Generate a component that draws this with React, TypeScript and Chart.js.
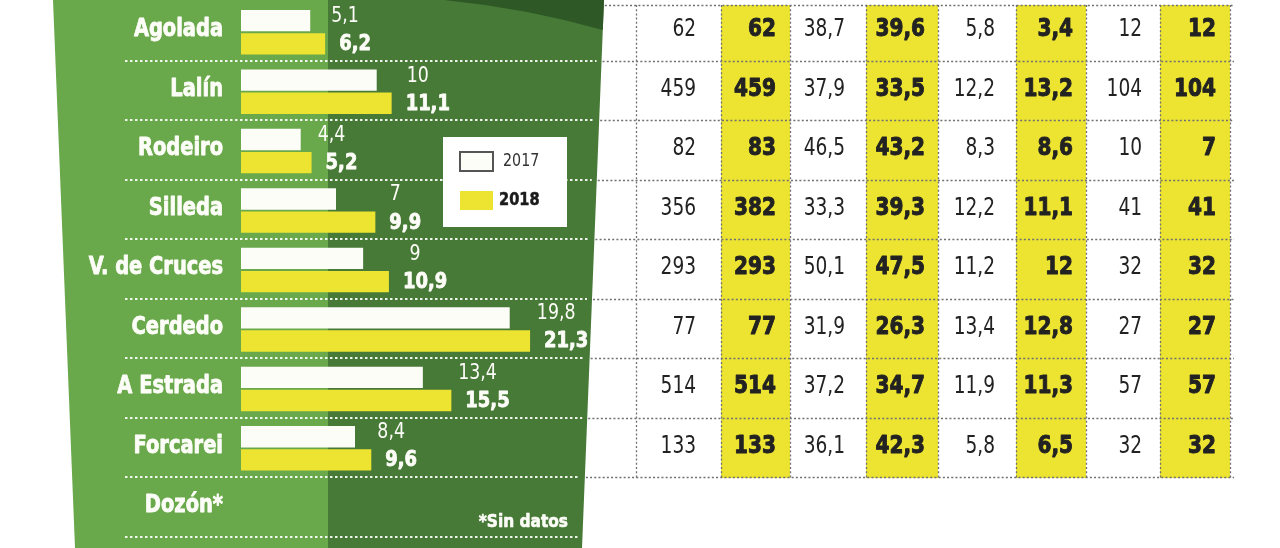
import React, { useEffect, useRef } from 'react';
import { Chart, registerables } from 'chart.js';

Chart.register(...registerables);

// ---------- data ----------
const categories = ['Agolada', 'Lalín', 'Rodeiro', 'Silleda', 'V. de Cruces', 'Cerdedo', 'A Estrada', 'Forcarei', 'Dozón*'];
const seriesLabels = ['2017', '2018'];
const values2017 = [5.1, 10, 4.4, 7, 9, 19.8, 13.4, 8.4, null];
const values2018 = [6.2, 11.1, 5.2, 9.9, 10.9, 21.3, 15.5, 9.6, null];

// table columns (pairs 2017 / 2018)
const colA2017 = [62, 459, 82, 356, 293, 77, 514, 133];
const colA2018 = [62, 459, 83, 382, 293, 77, 514, 133];
const colB2017 = [38.7, 37.9, 46.5, 33.3, 50.1, 31.9, 37.2, 36.1];
const colB2018 = [39.6, 33.5, 43.2, 39.3, 47.5, 26.3, 34.7, 42.3];
const colC2017 = [5.8, 12.2, 8.3, 12.2, 11.2, 13.4, 11.9, 5.8];
const colC2018 = [3.4, 13.2, 8.6, 11.1, 12, 12.8, 11.3, 6.5];
const colD2017 = [12, 104, 10, 41, 32, 27, 57, 32];
const colD2018 = [12, 104, 7, 41, 32, 27, 57, 32];
const noDataNote = '*Sin datos';

// ---------- styles / layout ----------
const LIGHT = '#69a84b';
const DARK = '#477937';
const DARKEST = '#2e5826';
const YELLOW = '#ece431';
const WHITE = '#fdfdf8';
const INK = '#222222';
const FONT = "'DejaVu Sans Condensed', 'DejaVu Sans', sans-serif";

const COL_EDGES = [636, 721, 790, 866, 938, 1016, 1086, 1160, 1230];
const TEXT_RIGHT = [696, 776, 845, 925, 995, 1073, 1142, 1216];
const TABLE_TOP = 5;

const leftEdge = (y: number) => 53 + (22 * y) / 548;
const rightEdge = (y: number) => 604 - (22 * y) / 548;
const fmt = (v: number) => String(v).replace('.', ',');

function drawText(
  ctx: CanvasRenderingContext2D,
  s: string,
  x: number,
  y: number,
  font: string,
  color: string,
  align: CanvasTextAlign,
  sx = 1,
  heavy = 0
) {
  ctx.save();
  ctx.font = font;
  try {
    (ctx as any).fontStretch = 'condensed';
  } catch (e) {}
  ctx.fillStyle = color;
  ctx.textAlign = align;
  ctx.textBaseline = 'middle';
  ctx.translate(x, y);
  ctx.scale(sx, 1);
  if (heavy > 0) {
    ctx.strokeStyle = color;
    ctx.lineWidth = heavy;
    ctx.lineJoin = 'round';
    ctx.strokeText(s, 0, 0);
  }
  ctx.fillText(s, 0, 0);
  ctx.restore();
}

export default function App() {
  const ref = useRef<HTMLCanvasElement>(null);

  useEffect(() => {
    document.body.style.margin = '0';
    const canvas = ref.current;
    if (!canvas) return;

    const panelPlugin = {
      id: 'panel',
      beforeDraw(chart: any) {
        const ctx: CanvasRenderingContext2D = chart.ctx;
        const y = chart.scales.y;
        const n = categories.length;
        const band = (y.bottom - y.top) / n;
        const H = chart.height;
        const split = 328;

        ctx.save();
        ctx.fillStyle = '#ffffff';
        ctx.fillRect(0, 0, chart.width, H);

        // light green part
        ctx.beginPath();
        ctx.moveTo(leftEdge(0), 0);
        ctx.lineTo(split, 0);
        ctx.lineTo(split, H);
        ctx.lineTo(leftEdge(H), H);
        ctx.closePath();
        ctx.fillStyle = LIGHT;
        ctx.fill();

        // dark green part
        ctx.beginPath();
        ctx.moveTo(split, 0);
        ctx.lineTo(rightEdge(0), 0);
        ctx.lineTo(rightEdge(H), H);
        ctx.lineTo(split, H);
        ctx.closePath();
        ctx.fillStyle = DARK;
        ctx.fill();

        // darkest top corner
        ctx.beginPath();
        ctx.moveTo(444, 0);
        ctx.quadraticCurveTo(525, 8, rightEdge(30), 30);
        ctx.lineTo(rightEdge(0), 0);
        ctx.closePath();
        ctx.fillStyle = DARKEST;
        ctx.fill();

        // white dotted separators in the panel
        ctx.strokeStyle = 'rgba(255,255,255,0.9)';
        ctx.lineWidth = 2;
        ctx.setLineDash([2.5, 2.5]);
        for (let k = 1; k <= n; k++) {
          const yy = Math.round(y.top + k * band) - 1;
          ctx.beginPath();
          ctx.moveTo(125, yy);
          ctx.lineTo(rightEdge(yy) - 5, yy);
          ctx.stroke();
        }

        // ---- table ----
        const rows = colA2017.length;
        const tableBottom = y.top + rows * band;
        ctx.setLineDash([]);
        ctx.fillStyle = YELLOW;
        for (let j = 1; j < 8; j += 2) {
          ctx.fillRect(COL_EDGES[j], TABLE_TOP, COL_EDGES[j + 1] - COL_EDGES[j], tableBottom - TABLE_TOP);
        }
        ctx.strokeStyle = '#707070';
        ctx.lineWidth = 1.3;
        ctx.setLineDash([2, 2.2]);
        for (let k = 0; k <= rows; k++) {
          const yy = k === 0 ? TABLE_TOP : Math.round(y.top + k * band) - 1;
          ctx.beginPath();
          ctx.moveTo(rightEdge(yy) + 1, yy + 0.5);
          ctx.lineTo(1234, yy + 0.5);
          ctx.stroke();
        }
        for (const x of COL_EDGES) {
          ctx.beginPath();
          ctx.moveTo(x + 0.5, TABLE_TOP);
          ctx.lineTo(x + 0.5, tableBottom);
          ctx.stroke();
        }
        ctx.restore();

        const cols = [colA2017, colA2018, colB2017, colB2018, colC2017, colC2018, colD2017, colD2018];
        for (let i = 0; i < rows; i++) {
          const cy = y.getPixelForValue(i) - 2;
          cols.forEach((col, j) => {
            const bold = j % 2 === 1;
            drawText(
              ctx,
              fmt(col[i]),
              TEXT_RIGHT[j],
              cy,
              bold ? `bold 24px ${FONT}` : `24px ${FONT}`,
              INK,
              'right',
              bold ? 0.93 : 0.86,
              bold ? 0.9 : 0
            );
          });
        }
      },
      afterDatasetsDraw(chart: any) {
        const ctx: CanvasRenderingContext2D = chart.ctx;
        const y = chart.scales.y;
        const m17 = chart.getDatasetMeta(0).data;
        const m18 = chart.getDatasetMeta(1).data;

        // category labels
        categories.forEach((c, i) => {
          drawText(ctx, c, 223, y.getPixelForValue(i) - 2, `bold 24px ${FONT}`, WHITE, 'right', 0.9, 0.8);
        });

        // value labels
        const SX18 = 0.95;
        for (let i = 0; i < categories.length; i++) {
          const v17 = values2017[i];
          const v18 = values2018[i];
          if (v18 == null || v17 == null) continue;
          const b17 = m17[i];
          const b18 = m18[i];
          ctx.save();
          ctx.font = `bold 21px ${FONT}`;
          const w18 = ctx.measureText(fmt(v18)).width * SX18;
          ctx.restore();
          const left18 = b18.x + 14;
          drawText(ctx, fmt(v18), left18, b18.y + 1, `bold 21px ${FONT}`, WHITE, 'left', SX18, 0.8);
          drawText(ctx, fmt(v17), left18 + w18 / 2 - 10, b17.y - 4, `21px ${FONT}`, WHITE, 'center', 0.92);
        }

        // note
        drawText(ctx, noDataNote, 568, 522, `bold 18px ${FONT}`, WHITE, 'right', 0.95, 0.6);

        // legend box
        ctx.save();
        ctx.fillStyle = '#ffffff';
        ctx.fillRect(443, 137, 124, 90);
        const ds = chart.data.datasets;
        ds.forEach((d: any, k: number) => {
          const top = k === 0 ? 152 : 191;
          ctx.fillStyle = d.backgroundColor;
          ctx.fillRect(460, top, 33, 19);
          if (k === 0) {
            ctx.strokeStyle = '#555555';
            ctx.lineWidth = 2;
            ctx.strokeRect(460, top, 33, 19);
          }
        });
        ctx.restore();
        drawText(ctx, ds[0].label, 503, 161, `18px ${FONT}`, '#333333', 'left', 0.88);
        drawText(ctx, ds[1].label, 499, 200, `bold 18px ${FONT}`, '#1a1a1a', 'left', 0.9, 0.5);
      },
    };

    const chart = new Chart(canvas, {
      type: 'bar',
      data: {
        labels: categories,
        datasets: [
          {
            label: seriesLabels[0],
            data: values2017 as any,
            backgroundColor: WHITE,
            borderWidth: 0,
            categoryPercentage: 0.78,
            barPercentage: 0.92,
          },
          {
            label: seriesLabels[1],
            data: values2018 as any,
            backgroundColor: YELLOW,
            borderWidth: 0,
            categoryPercentage: 0.78,
            barPercentage: 0.92,
          },
        ],
      },
      options: {
        indexAxis: 'y',
        animation: false,
        responsive: false,
        devicePixelRatio: 1,
        layout: { padding: { left: 241, right: 1280 - 602, top: 2.5, bottom: 10.5 } },
        scales: {
          x: { type: 'linear', min: 0, max: 26.6, display: false },
          y: { type: 'category', display: false },
        },
        plugins: {
          legend: { display: false },
          tooltip: { enabled: false },
        },
      },
      plugins: [panelPlugin],
    });

    return () => chart.destroy();
  }, []);

  return (
    <div style={{ position: 'absolute', left: 0, top: 0, width: 1280, height: 548 }}>
      <canvas ref={ref} width={1280} height={548} style={{ display: 'block' }} />
    </div>
  );
}
